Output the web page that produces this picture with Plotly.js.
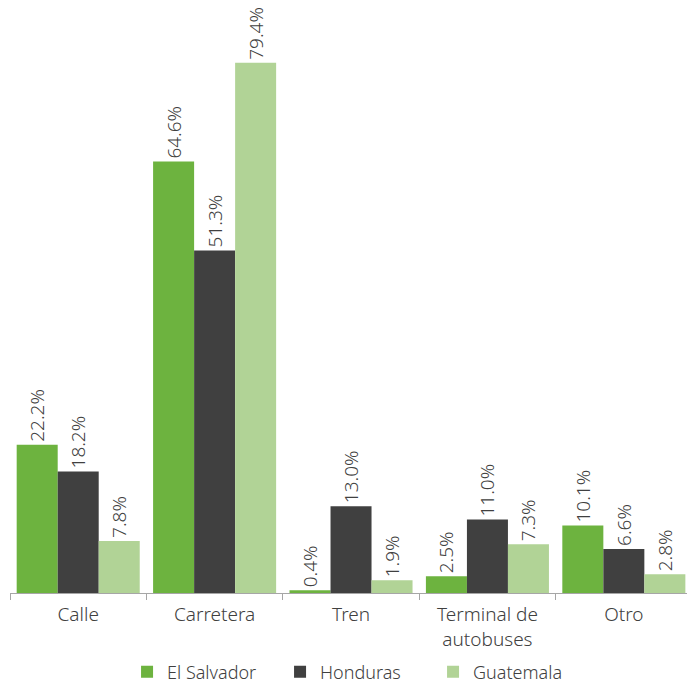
<!DOCTYPE html>
<html>
<head>
<meta charset="utf-8">
<script src="https://cdn.plot.ly/plotly-3.0.1.min.js"></script>
<style>html,body{margin:0;padding:0;background:#fff;}#chart{width:687px;height:683px;}</style>
</head>
<body>
<div id="chart"></div>
<script>
const categories = ["Calle", "Carretera", "Tren", "Terminal de<br>autobuses", "Otro"];
const seriesNames = ["El Salvador", "Honduras", "Guatemala"];
const elSalvador = [22.2, 64.6, 0.4, 2.5, 10.1];
const honduras = [18.2, 51.3, 13.0, 11.0, 6.6];
const guatemala = [7.8, 79.4, 1.9, 7.3, 2.8];
const colors = ["#6db33f", "#404040", "#b1d396"];

const FONT = "'Noto Sans', 'Open Sans', sans-serif";
const values = [elSalvador, honduras, guatemala];
const traces = values.map((v, i) => ({
  type: "bar",
  name: seriesNames[i],
  x: categories,
  y: v,
  marker: {color: colors[i]},
  text: v.map(d => d.toFixed(1) + "%"),
  textposition: "outside",
  textangle: -90,
  constraintext: "none",
  cliponaxis: false,
  textfont: {family: FONT, size: 19, color: "#404040", weight: 300},
  hoverinfo: "none"
}));

const layout = {
  width: 687,
  height: 683,
  margin: {l: 10, r: 0, t: 10, b: 90, autoexpand: false},
  barmode: "group",
  bargap: 0.098,
  bargroupgap: 0,
  paper_bgcolor: "#ffffff",
  plot_bgcolor: "#ffffff",
  font: {family: FONT, size: 19, color: "#404040", weight: 300},
  showlegend: true,
  legend: {
    orientation: "h",
    x: 0.519, xanchor: "center", xref: "container",
    y: 0.016, yanchor: "middle", yref: "container",
    font: {family: FONT, size: 18, color: "#404040", weight: 300},
    itemwidth: 30,
    entrywidth: 108,
    traceorder: "normal"
  },
  xaxis: {
    type: "category",
    range: [-0.5, 4.463],
    showline: true,
    linecolor: "#a6a6a6",
    linewidth: 1,
    ticks: "outside",
    tickson: "boundaries",
    ticklen: 6,
    tickcolor: "#a6a6a6",
    ticklabelstandoff: 4,
    showgrid: false,
    automargin: false,
    tickfont: {family: FONT, size: 19, color: "#404040", weight: 300},
    fixedrange: true
  },
  yaxis: {
    range: [0, 87.3],
    visible: false,
    showgrid: false,
    zeroline: false,
    fixedrange: true
  }
};

Plotly.newPlot("chart", traces, layout, {displayModeBar: false, staticPlot: true});
</script>
</body>
</html>
